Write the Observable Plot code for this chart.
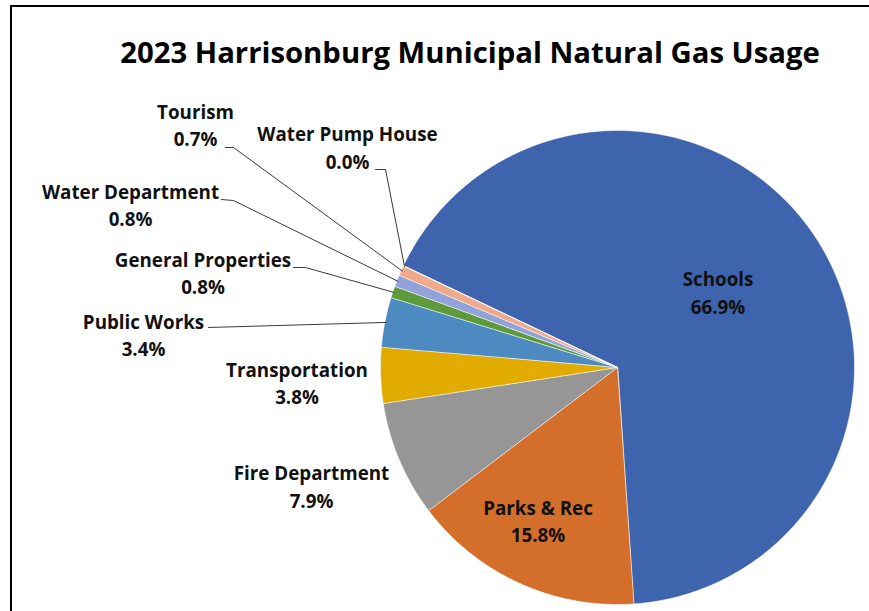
<!DOCTYPE html>
<html>
<head>
<meta charset="utf-8">
<script src="https://cdn.jsdelivr.net/npm/d3@7"></script>
<script src="https://cdn.jsdelivr.net/npm/@observablehq/plot@0.6"></script>
<style>
  html, body { margin: 0; padding: 0; background: #fff; }
  #page { position: relative; width: 869px; height: 611px; overflow: hidden; font-family: "Open Sans", Lato, sans-serif; }
  #frame { position: absolute; left: 10px; top: 5px; right: 0; bottom: -4px; border-left: 2px solid #000; border-top: 2px solid #000; }
  #title { position: absolute; left: 0; top: 32px; width: 940px; text-align: center; font-weight: 700; font-size: 29.3px; line-height: 40px; color: #000; }
  #chart { position: absolute; left: 0; top: 90px; }
</style>
</head>
<body>
<div id="page">
  <div id="frame"></div>
  <div id="title">2023 Harrisonburg Municipal Natural Gas Usage</div>
  <div id="chart"></div>
</div>
<script>
// ---- data ----
const names = ["Schools", "Parks & Rec", "Fire Department", "Transportation", "Public Works", "General Properties", "Water Department", "Tourism", "Water Pump House"];
const shares = [66.9, 15.8, 7.9, 3.8, 3.4, 0.8, 0.8, 0.7, 0.0];
const labels = ["66.9%", "15.8%", "7.9%", "3.8%", "3.4%", "0.8%", "0.8%", "0.7%", "0.0%"];
const colors = ["#3D64AD", "#D46F2B", "#969696", "#E2AB00", "#4E8AC2", "#5E9A3A", "#91A3D8", "#EFA98B", "#BDBDBD"];

// ---- layout ----
const W = 869, H = 521, TOP = 90;
const CX = 617, CY = 367 - TOP, R = 237;
const startDeg = 295.4;
// label block centers (page pixels) and leader elbows
const labelLayout = {
  "Schools":            {x: 717.5, y: 293.5},
  "Parks & Rec":        {x: 537.5, y: 522},
  "Fire Department":    {x: 311,   y: 487.5},
  "Transportation":     {x: 296.5, y: 384},
  "Public Works":       {x: 143,   y: 336,   leader: [[208, 327]]},
  "General Properties": {x: 202.5, y: 274,   leader: [[293, 267], [305, 267]]},
  "Water Department":   {x: 130,   y: 206,   leader: [[221, 199], [233, 200]]},
  "Tourism":            {x: 195,   y: 126,   leader: [[225, 147], [233, 147]]},
  "Water Pump House":   {x: 347,   y: 148.5, leader: [[375, 169], [385, 169]]}
};
const ux = px => (px - CX) / R;
const uy = py => ((CY + TOP) - py) / R;

const start = startDeg * Math.PI / 180;
const arcs = d3.pie().sort(null).value(d => d).startAngle(start).endAngle(start + 2 * Math.PI)(shares);

// slice polygons in unit coordinates
const slicePts = [];
arcs.forEach((a, i) => {
  const n = Math.max(1, Math.ceil((a.endAngle - a.startAngle) / (Math.PI / 360)));
  slicePts.push({name: names[i], x: 0, y: 0});
  for (let k = 0; k <= n; k++) {
    const t = a.startAngle + (a.endAngle - a.startAngle) * k / n;
    slicePts.push({name: names[i], x: Math.sin(t), y: Math.cos(t)});
  }
});

// labels
const textData = names.map((n, i) => ({name: n, text: n + "\n" + labels[i], x: ux(labelLayout[n].x), y: uy(labelLayout[n].y)}));

// leader lines
const leaderPts = [];
arcs.forEach((a, i) => {
  const L = labelLayout[names[i]];
  if (!L.leader) return;
  L.leader.forEach(([px, py]) => leaderPts.push({name: names[i], x: ux(px), y: uy(py)}));
  const m = (a.startAngle + a.endAngle) / 2;
  leaderPts.push({name: names[i], x: Math.sin(m) * 0.995, y: Math.cos(m) * 0.995});
});

const chart = Plot.plot({
  width: W,
  height: H,
  margin: 0,
  x: {domain: [-1, 1], range: [CX - R, CX + R], axis: null},
  y: {domain: [-1, 1], range: [CY + R, CY - R], axis: null},
  color: {domain: names, range: colors},
  style: {background: "transparent", fontFamily: "'Open Sans', Lato, sans-serif"},
  marks: [
    Plot.line(slicePts, {x: "x", y: "y", z: "name", fill: "name", stroke: "#ffffff", strokeWidth: 0.8, strokeOpacity: 0.7, curve: "linear-closed"}),
    Plot.line(leaderPts, {x: "x", y: "y", z: "name", stroke: "#3a3a3a", strokeWidth: 1}),
    Plot.text(textData, {x: "x", y: "y", text: "text", fontSize: 18.8, fontWeight: 700, fill: "#111", lineHeight: 1.48, dy: -3, textAnchor: "middle"})
  ]
});
document.getElementById("chart").appendChild(chart);
</script>
</body>
</html>
